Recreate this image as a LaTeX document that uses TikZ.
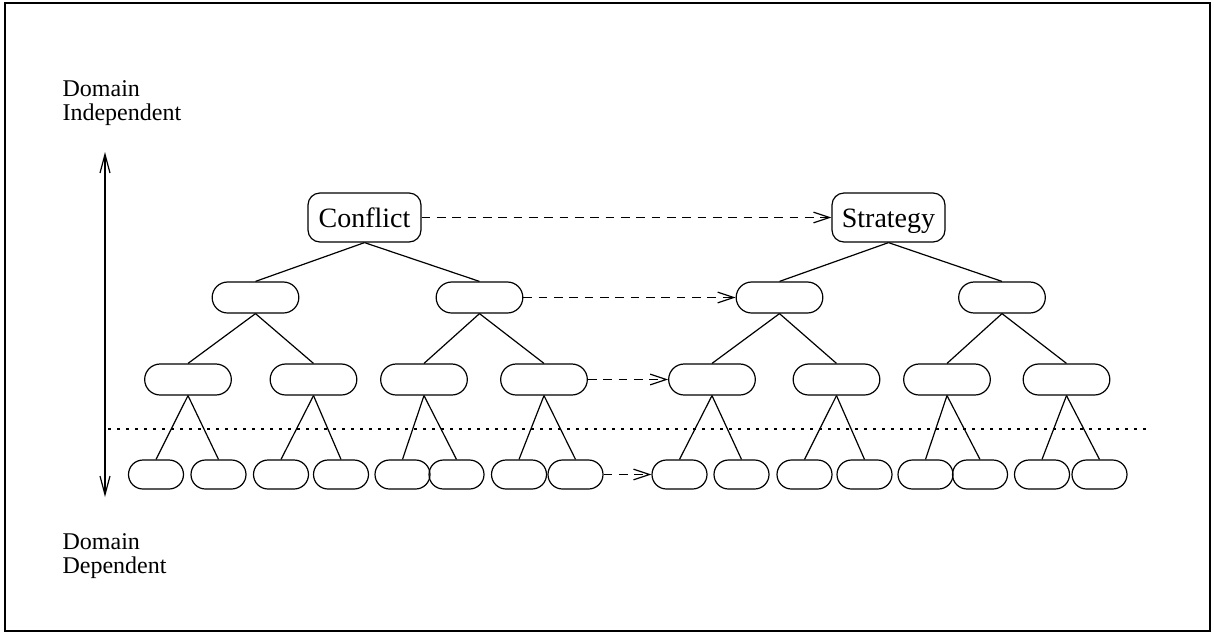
\documentclass[tikz,border=0pt]{standalone}
\usepackage{fontspec}
\setmainfont{Liberation Serif}
\usetikzlibrary{arrows.meta,shapes.misc}

\begin{document}
\begin{tikzpicture}[x=0.75pt,y=-0.75pt,
  line width=0.9pt,
  topbox/.style={draw, rounded corners=9pt, minimum width=84.75pt,
    minimum height=36.75pt, inner sep=0pt, text height=19.5pt, text depth=4.5pt,
    font=\fontsize{21}{25}\selectfont},
  midbox/.style={draw, rounded rectangle, minimum width=65pt,
    minimum height=23.25pt, inner sep=0pt},
  leafbox/.style={draw, rounded rectangle, minimum width=41.25pt,
    minimum height=21.75pt, inner sep=0pt},
  link/.style={dash pattern=on 6.5pt off 5pt,
    -{Straight Barb[length=12pt,width=8pt]}},
  levelarrow/.style={{Straight Barb[length=14pt,width=7.5pt]}-{Straight Barb[length=14pt,width=7.5pt]}},
  divider/.style={dash pattern=on 2.25pt off 4.5pt},
  sidelabel/.style={anchor=base west, inner sep=0pt, font=\fontsize{18}{22}\selectfont},
]
\useasboundingbox (0,0) rectangle (1214,633);

% outer frame
\draw[line width=1.6pt] (5,3) rectangle (1210,631);

% side labels
\node[sidelabel] (indA) at (62,96) {Domain};
\node[sidelabel] (indB) at (62,120) {Independent};
\node[sidelabel] (depA) at (62,549) {Domain};
\node[sidelabel] (depB) at (62,573) {Dependent};

% level axis
\coordinate (axTop) at (105,152);
\coordinate (axBot) at (105,497);
\draw[levelarrow] (axTop) -- (axBot);

% separator between independent and dependent levels
\coordinate (sepL) at (108,429);
\coordinate (sepR) at (1150,429);
\draw[divider] (sepL) -- (sepR);

% roots
\node[topbox] (conflict) at (364.5,217.5) {Conflict};
\node[topbox] (strategy) at (888.5,217.5) {Strategy};

% second level
\node[midbox] (m1) at (255.5,297.5) {};
\node[midbox] (m2) at (479.5,297.5) {};
\node[midbox] (m3) at (779.5,297.5) {};
\node[midbox] (m4) at (1002,297.5) {};

% third level
\node[midbox] (n1) at (188,379.5) {};
\node[midbox] (n2) at (313.5,379.5) {};
\node[midbox] (n3) at (424,379.5) {};
\node[midbox] (n4) at (544,379.5) {};
\node[midbox] (n5) at (712,379.5) {};
\node[midbox] (n6) at (836.5,379.5) {};
\node[midbox] (n7) at (947,379.5) {};
\node[midbox] (n8) at (1066.5,379.5) {};

% leaves
\foreach \nm/\xx in {a/156,b/218.5,c/281,d/341,e/402.5,f/456.5,g/519,h/575.5,
                     i/679.5,j/741.5,k/804.5,l/864.5,m/925.5,n/980,o/1042,p/1099.5}
  \node[leafbox] (leaf\nm) at (\xx,474.5) {};

% tree branches
\draw (conflict.south) -- (m1.north);
\draw (conflict.south) -- (m2.north);
\draw (strategy.south) -- (m3.north);
\draw (strategy.south) -- (m4.north);
\foreach \p/\ca/\cb in {m1/n1/n2, m2/n3/n4, m3/n5/n6, m4/n7/n8,
                        n1/leafa/leafb, n2/leafc/leafd, n3/leafe/leaff, n4/leafg/leafh,
                        n5/leafi/leafj, n6/leafk/leafl, n7/leafm/leafn, n8/leafo/leafp}
{
  \draw (\p.south) -- (\ca.north);
  \draw (\p.south) -- (\cb.north);
}

% correspondences between the two hierarchies
\draw[link] (conflict.east) -- (strategy.west);
\draw[link] (m2.east) -- (m3.west);
\draw[link] (n4.east) -- (n5.west);
\draw[link] (leafh.east) -- (leafi.west);
\end{tikzpicture}
\end{document}
